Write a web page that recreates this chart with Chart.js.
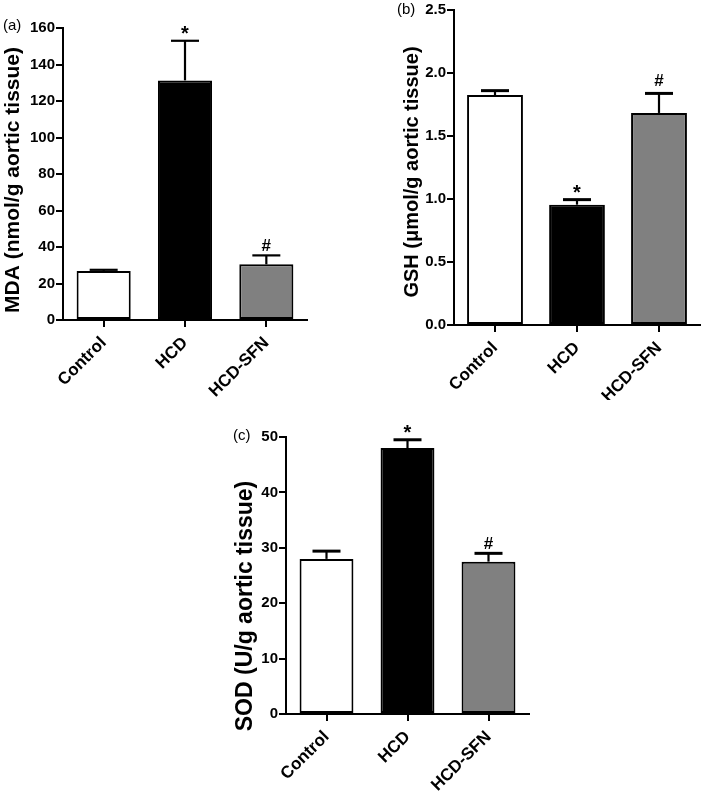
<!DOCTYPE html>
<html><head><meta charset="utf-8">
<script src="https://cdn.jsdelivr.net/npm/chart.js@4"></script>
<style>
html,body{margin:0;padding:0;background:#fff;}
body{width:701px;height:793px;position:relative;overflow:hidden;}
canvas{position:absolute;}
</style></head><body>
<canvas id="ca" width="330" height="400" style="left:0px;top:0px"></canvas>
<canvas id="cb" width="321" height="400" style="left:380px;top:0px"></canvas>
<canvas id="cc" width="350" height="393" style="left:200px;top:400px"></canvas>
<script>
// ---- data ----
const categories = ['Control', 'HCD', 'HCD-SFN'];
const barFills = ['#ffffff', '#000000', '#808080'];
const sigMarks = ['', '*', '#'];

const mdaValues = [26.8, 131.3, 30.5];
const mdaErrors = [0.7, 21.7, 4.9];
const mdaTicks = [0, 20, 40, 60, 80, 100, 120, 140, 160];

const gshValues = [1.825, 0.955, 1.683];
const gshErrors = [0.035, 0.04, 0.155];
const gshTicks = [0, 0.5, 1.0, 1.5, 2.0, 2.5];

const sodValues = [28.0, 48.0, 27.5];
const sodErrors = [1.4, 1.5, 1.5];
const sodTicks = [0, 10, 20, 30, 40, 50];

const FONT = '"Liberation Sans", Arial, Helvetica, sans-serif';
Chart.defaults.font.family = FONT;
Chart.defaults.color = '#000';

const overlay = {
  id: 'overlay',
  afterDatasetsDraw(chart, args, o) {
    const ctx = chart.ctx;
    const meta = chart.getDatasetMeta(0);
    const ys = chart.scales.y;
    ctx.save();
    ctx.strokeStyle = '#000';
    ctx.fillStyle = '#000';
    meta.data.forEach((bar, i) => {
      const v = o.values[i], e = o.errors[i];
      const yTop = ys.getPixelForValue(v);
      const yErr = ys.getPixelForValue(v + e);
      ctx.lineWidth = 2.2;
      ctx.beginPath();
      ctx.moveTo(bar.x, yTop);
      ctx.lineTo(bar.x, yErr);
      ctx.stroke();
      ctx.lineWidth = o.capW;
      ctx.beginPath();
      ctx.moveTo(bar.x - o.cap / 2, yErr);
      ctx.lineTo(bar.x + o.cap / 2, yErr);
      ctx.stroke();
      const m = o.marks[i];
      ctx.textAlign = 'center';
      ctx.textBaseline = 'alphabetic';
      if (m === '*') {
        ctx.font = 'bold 20px ' + FONT;
        ctx.fillText(m, bar.x, yErr - 1);
      } else if (m === '#') {
        ctx.font = 'bold 17px ' + FONT;
        ctx.fillText(m, bar.x, yErr - o.hashGap);
      }
    });
    // panel label
    ctx.font = '15px ' + FONT;
    ctx.textAlign = 'left';
    ctx.textBaseline = 'middle';
    ctx.fillText(o.label, o.labelX, o.labelY);
    // y title
    ctx.save();
    ctx.translate(o.titleX, o.titleY);
    ctx.rotate(-Math.PI / 2);
    ctx.font = 'bold ' + o.titleSize + 'px ' + FONT;
    ctx.textAlign = 'center';
    ctx.textBaseline = 'middle';
    ctx.fillText(o.title, 0, 0);
    ctx.restore();
    ctx.restore();
  }
};

function makeChart(id, p) {
  const ticksArr = p.ticks;
  return new Chart(document.getElementById(id), {
    type: 'bar',
    data: {
      labels: categories,
      datasets: [{
        data: p.values,
        backgroundColor: barFills,
        borderColor: '#000',
        borderWidth: 2,
        borderSkipped: false,
        categoryPercentage: 1,
        barPercentage: p.barPct
      }]
    },
    options: {
      responsive: false,
      animation: false,
      layout: { padding: { top: p.padTop, right: p.padRight, left: 0, bottom: 0 } },
      plugins: {
        legend: { display: false },
        tooltip: { enabled: false },
        overlay: {
          values: p.values, errors: p.errors, marks: sigMarks, cap: 28, capW: p.capW, hashGap: p.hashGap,
          label: p.label, labelX: p.labelX, labelY: p.labelY,
          title: p.title, titleX: p.titleX, titleY: p.titleY, titleSize: p.titleSize
        }
      },
      scales: {
        x: {
          offset: true,
          grid: { display: true, drawOnChartArea: false, drawTicks: true, tickLength: 7, color: '#000', lineWidth: 2, offset: false },
          border: { display: true, color: '#000', width: 2 },
          ticks: { autoSkip: false, maxRotation: 45, minRotation: 45, padding: 6,
                   font: { size: 17, weight: 'bold' }, color: '#000' },
          afterFit(s) { s.height = p.xH; }
        },
        y: {
          min: ticksArr[0], max: ticksArr[ticksArr.length - 1],
          grid: { display: true, drawOnChartArea: false, drawTicks: true, tickLength: 7, color: '#000', lineWidth: 2 },
          border: { display: true, color: '#000', width: 2 },
          ticks: { padding: 1, font: { size: 15, weight: 'bold' }, color: '#000',
                   callback: (v) => Number(v).toFixed(p.dec) },
          afterBuildTicks(s) { s.ticks = ticksArr.map(v => ({ value: v })); },
          afterFit(s) { s.width = p.yW; }
        }
      }
    },
    plugins: [overlay]
  });
}

makeChart('ca', {
  values: mdaValues, errors: mdaErrors, ticks: mdaTicks, dec: 0,
  yW: 63, xH: 80, padTop: 28, padRight: 23, barPct: 0.665, capW: 2.2, hashGap: 4,
  label: '(a)', labelX: 3, labelY: 26,
  title: 'MDA (nmol/g aortic tissue)', titleX: 13, titleY: 180, titleSize: 21
});
makeChart('cb', {
  values: gshValues, errors: gshErrors, ticks: gshTicks, dec: 1,
  yW: 74, xH: 75, padTop: 9, padRight: 1, barPct: 0.68, capW: 3, hashGap: 7,
  label: '(b)', labelX: 17, labelY: 10,
  title: 'GSH (\u03bcmol/g aortic tissue)', titleX: 32, titleY: 172, titleSize: 20
});
makeChart('cc', {
  values: sodValues, errors: sodErrors, ticks: sodTicks, dec: 0,
  yW: 86, xH: 79, padTop: 37, padRight: 21, barPct: 0.665, capW: 3, hashGap: 4,
  label: '(c)', labelX: 33, labelY: 36,
  title: 'SOD (U/g aortic tissue)', titleX: 46, titleY: 206, titleSize: 23
});
</script>
</body></html>
